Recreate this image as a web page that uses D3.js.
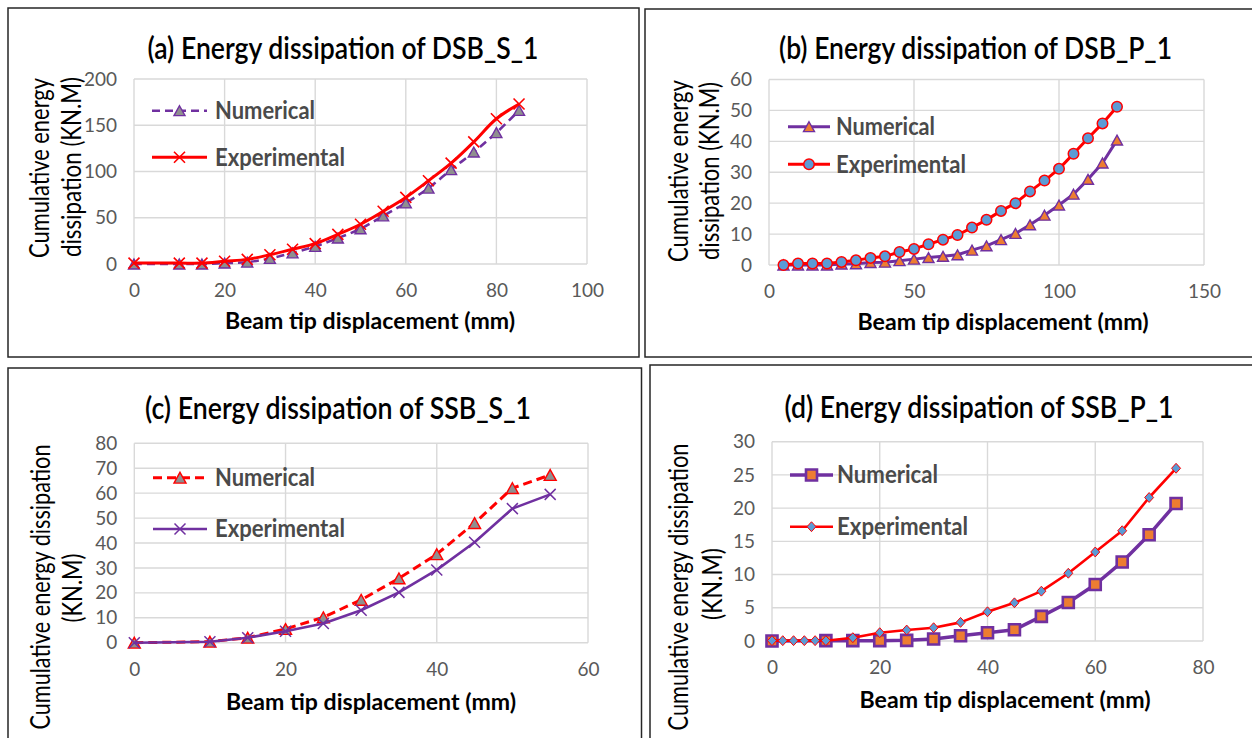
<!DOCTYPE html>
<html>
<head>
<meta charset="utf-8">
<script src="https://cdn.jsdelivr.net/npm/d3@7"></script>
<style>
  html, body { margin: 0; padding: 0; background: #ffffff; }
  svg { display: block; font-family: Lato, "Open Sans", "Liberation Sans", sans-serif; }
</style>
</head>
<body>
<svg id="chart" width="1252" height="738"></svg>
<script>
// ---- Data -------------------------------------------------------------
const panelTitles = [
  '(a) Energy dissipation of DSB_S_1',
  '(b) Energy dissipation of DSB_P_1',
  '(c) Energy dissipation of SSB_S_1',
  '(d) Energy dissipation of SSB_P_1'
];
const xAxisTitle = 'Beam tip displacement (mm)';
const seriesNames = ['Numerical', 'Experimental'];

// (a) DSB_S_1
const dsbS1Disp = [0, 10, 15, 20, 25, 30, 35, 40, 45, 50, 55, 60, 65, 70, 75, 80, 85];
const dsbS1Num  = [0, 0, 0, 1, 2, 6, 12, 19, 28, 38, 52, 66, 82, 102, 121, 142, 166];
const dsbS1Exp  = [1, 1, 1, 3, 5, 10, 16, 22, 32, 43, 57, 72, 90, 109, 132, 157, 173];
const dsbS1XTicks = [0, 20, 40, 60, 80, 100];
const dsbS1YTicks = [0, 50, 100, 150, 200];

// (b) DSB_P_1
const dsbP1Disp = [5, 10, 15, 20, 25, 30, 35, 40, 45, 50, 55, 60, 65, 70, 75, 80, 85, 90, 95, 100, 105, 110, 115, 120];
const dsbP1Num  = [0, 0, 0, 0, 0.3, 0.4, 0.8, 0.9, 1.4, 1.9, 2.4, 2.8, 3.3, 4.8, 6.2, 8.2, 10.2, 13, 16.1, 19.4, 22.9, 27.7, 33, 40.4];
const dsbP1Exp  = [0, 0.5, 0.5, 0.5, 1, 1.5, 2.3, 2.8, 4.2, 5.2, 6.7, 8.2, 9.7, 12.1, 14.6, 17.5, 20, 23.8, 27.3, 31.1, 36, 41, 45.8, 51.2];
const dsbP1XTicks = [0, 50, 100, 150];
const dsbP1YTicks = [0, 10, 20, 30, 40, 50, 60];

// (c) SSB_S_1
const ssbS1Disp = [0, 10, 15, 20, 25, 30, 35, 40, 45, 50, 55];
const ssbS1Num  = [0, 0.4, 2, 5.5, 10.2, 17.2, 25.8, 35.5, 48, 62, 67.3];
const ssbS1Exp  = [0, 0.4, 2, 4.6, 7.7, 13, 20.2, 29.2, 40.3, 53.8, 59.5];
const ssbS1XTicks = [0, 20, 40, 60];
const ssbS1YTicks = [0, 10, 20, 30, 40, 50, 60, 70, 80];

// (d) SSB_P_1
const ssbP1NumDisp = [0, 10, 15, 20, 25, 30, 35, 40, 45, 50, 55, 60, 65, 70, 75];
const ssbP1Num     = [0, 0.05, 0.05, 0.05, 0.1, 0.3, 0.8, 1.25, 1.7, 3.7, 5.8, 8.5, 11.9, 16, 20.7];
const ssbP1ExpDisp = [0, 2, 4, 6, 8, 10, 15, 20, 25, 30, 35, 40, 45, 50, 55, 60, 65, 70, 75];
const ssbP1Exp     = [0.05, 0.05, 0.05, 0.05, 0.05, 0.05, 0.5, 1.25, 1.65, 2, 2.8, 4.4, 5.75, 7.5, 10.2, 13.4, 16.6, 21.6, 26];
const ssbP1XTicks = [0, 20, 40, 60, 80];
const ssbP1YTicks = [0, 5, 10, 15, 20, 25, 30];

// ---- Styling ----------------------------------------------------------
const RED = '#ff0000', PURPLE = '#7030a0', ORANGE = '#ed7d31', BLUE = '#5b9bd5', GREY = '#8f8f8f';
const GRID = '#d9d9d9', TICK_TEXT = '#595959', LEGEND_TEXT = '#4a4a4a';

const zip = (xs, ys) => xs.map((x, i) => ({ x, y: ys[i] }));

const panels = [
  {
    title: panelTitles[0], titlePos: [343, 48, 391],
    frame: [8, 8, 631, 349],
    plot: { left: 134, right: 587, top: 79, bottom: 264 },
    xDomain: [0, 100], yDomain: [0, 200], xTicks: dsbS1XTicks, yTicks: dsbS1YTicks,
    xTitlePos: [370, 321, 290],
    yTitle: [['Cumulative energy', 40, 168, 180], ['dissipation (KN.M)', 72, 167, 180]],
    legend: { x0: 152, x1: 207, tx: 215, rows: [110.7, 157.3], widths: [100, 130] },
    curve: d3.curveCatmullRom.alpha(0.5),
    series: [
      { name: seriesNames[0], data: zip(dsbS1Disp, dsbS1Num), color: PURPLE, width: 2.6, dash: '8,5',
        marker: { type: 'triangle', size: 11, fill: GREY, stroke: PURPLE, sw: 1.4 } },
      { name: seriesNames[1], data: zip(dsbS1Disp, dsbS1Exp), color: RED, width: 3, dash: null,
        marker: { type: 'x', size: 11, fill: 'none', stroke: RED, sw: 1.6 } }
    ]
  },
  {
    title: panelTitles[1], titlePos: [975.5, 48, 393],
    frame: [645, 9, 620, 348],
    plot: { left: 769, right: 1204, top: 79.5, bottom: 265 },
    xDomain: [0, 150], yDomain: [0, 60], xTicks: dsbP1XTicks, yTicks: dsbP1YTicks,
    xTitlePos: [1003, 322, 291],
    yTitle: [['Cumulative energy', 679, 171, 182], ['dissipation (KN.M)', 710, 171, 178]],
    legend: { x0: 788, x1: 830, tx: 836, rows: [126.7, 164.3], widths: [99, 130] },
    curve: d3.curveLinear,
    series: [
      { name: seriesNames[0], data: zip(dsbP1Disp, dsbP1Num), color: PURPLE, width: 3, dash: null,
        marker: { type: 'triangle', size: 11, fill: ORANGE, stroke: PURPLE, sw: 1.4 } },
      { name: seriesNames[1], data: zip(dsbP1Disp, dsbP1Exp), color: RED, width: 3, dash: null,
        marker: { type: 'circle', size: 10.5, fill: BLUE, stroke: RED, sw: 1.5 } }
    ]
  },
  {
    title: panelTitles[2], titlePos: [338, 408, 386],
    frame: [8, 368, 633.5, 380],
    plot: { left: 134.3, right: 588, top: 443.3, bottom: 642.7 },
    xDomain: [0, 60], yDomain: [0, 80], xTicks: ssbS1XTicks, yTicks: ssbS1YTicks,
    xTitlePos: [371, 702, 290],
    yTitle: [['Cumulative energy dissipation', 41, 587, 285], ['(KN.M)', 73, 588, 69]],
    legend: { x0: 153, x1: 207, tx: 215, rows: [477.7, 529], widths: [100, 130] },
    curve: d3.curveLinear,
    series: [
      { name: seriesNames[0], data: zip(ssbS1Disp, ssbS1Num), color: RED, width: 3, dash: '9,5',
        marker: { type: 'triangle', size: 12, fill: GREY, stroke: RED, sw: 1.4 } },
      { name: seriesNames[1], data: zip(ssbS1Disp, ssbS1Exp), color: PURPLE, width: 2.6, dash: null,
        marker: { type: 'x', size: 11, fill: 'none', stroke: PURPLE, sw: 1.5 } }
    ]
  },
  {
    title: panelTitles[3], titlePos: [979, 407, 389],
    frame: [650, 365, 620, 380],
    plot: { left: 772, right: 1203, top: 441.7, bottom: 641 },
    xDomain: [0, 80], yDomain: [0, 30], xTicks: ssbP1XTicks, yTicks: ssbP1YTicks,
    xTitlePos: [1005, 700, 291],
    yTitle: [['Cumulative energy dissipation', 679, 587, 287], ['(KN.M)', 713, 584, 72]],
    legend: { x0: 790, x1: 833, tx: 837, rows: [475, 526.7], widths: [101, 131] },
    curve: d3.curveLinear,
    series: [
      { name: seriesNames[0], data: zip(ssbP1NumDisp, ssbP1Num), color: PURPLE, width: 3.5, dash: null,
        marker: { type: 'square', size: 11, fill: ORANGE, stroke: PURPLE, sw: 2.6 } },
      { name: seriesNames[1], data: zip(ssbP1ExpDisp, ssbP1Exp), color: RED, width: 2.6, dash: null,
        marker: { type: 'diamond', size: 9, fill: BLUE, stroke: RED, sw: 1 } }
    ]
  }
];

// ---- Marker shapes ----------------------------------------------------
function markerPath(type, s) {
  const a = s / 2;
  switch (type) {
    case 'triangle': {
      const h = s * 0.9;
      return `M0,${-h / 2}L${a},${h / 2}L${-a},${h / 2}Z`;
    }
    case 'x':
      return `M${-a},${-a}L${a},${a}M${-a},${a}L${a},${-a}`;
    case 'circle':
      return `M${a},0A${a},${a} 0 1 1 ${-a},0A${a},${a} 0 1 1 ${a},0Z`;
    case 'square':
      return `M${-a},${-a}H${a}V${a}H${-a}Z`;
    case 'diamond':
      return `M0,${-a * 1.1}L${a},0L0,${a * 1.1}L${-a},0Z`;
  }
  return '';
}

function drawMarkers(g, pts, m) {
  g.selectAll(null)
    .data(pts)
    .join('path')
    .attr('transform', d => `translate(${d[0]},${d[1]})`)
    .attr('d', markerPath(m.type, m.size))
    .attr('fill', m.fill)
    .attr('stroke', m.stroke)
    .attr('stroke-width', m.sw)
    .attr('stroke-linejoin', 'miter');
}

// ---- Drawing ----------------------------------------------------------
const svg = d3.select('#chart');

panels.forEach(p => {
  const g = svg.append('g');

  // panel frame
  g.append('rect')
    .attr('x', p.frame[0]).attr('y', p.frame[1])
    .attr('width', p.frame[2]).attr('height', p.frame[3])
    .attr('fill', 'none').attr('stroke', '#262626').attr('stroke-width', 1.5);

  const x = d3.scaleLinear().domain(p.xDomain).range([p.plot.left, p.plot.right]);
  const y = d3.scaleLinear().domain(p.yDomain).range([p.plot.bottom, p.plot.top]);

  // gridlines
  const grid = g.append('g').attr('stroke', GRID).attr('stroke-width', 1.4);
  grid.selectAll('.hg').data(p.yTicks).join('line')
    .attr('x1', x(p.xDomain[0])).attr('x2', x(p.xDomain[1]))
    .attr('y1', d => y(d)).attr('y2', d => y(d));
  grid.selectAll('.vg').data(p.xTicks).join('line')
    .attr('y1', y(p.yDomain[0])).attr('y2', y(p.yDomain[1]))
    .attr('x1', d => x(d)).attr('x2', d => x(d));

  // tick labels
  const yAxis = g.append('g')
    .attr('transform', `translate(${p.plot.left},0)`)
    .call(d3.axisLeft(y).tickValues(p.yTicks).tickSize(0).tickPadding(17));
  const xAxis = g.append('g')
    .attr('transform', `translate(0,${p.plot.bottom})`)
    .call(d3.axisBottom(x).tickValues(p.xTicks).tickSize(0).tickPadding(20));
  [xAxis, yAxis].forEach(ax => {
    ax.select('.domain').remove();
    ax.selectAll('text')
      .attr('fill', TICK_TEXT)
      .style('font-family', 'Lato, "Open Sans", sans-serif')
      .style('font-size', '19px');
  });

  // series
  const line = d3.line().x(d => x(d.x)).y(d => y(d.y)).curve(p.curve);
  p.series.forEach(s => {
    g.append('path')
      .datum(s.data)
      .attr('d', line)
      .attr('fill', 'none')
      .attr('stroke', s.color)
      .attr('stroke-width', s.width)
      .attr('stroke-dasharray', s.dash)
      .attr('stroke-linejoin', 'round');
    drawMarkers(g.append('g'), s.data.map(d => [x(d.x), y(d.y)]), s.marker);
  });

  // legend
  p.series.forEach((s, i) => {
    const ly = p.legend.rows[i];
    g.append('line')
      .attr('x1', p.legend.x0).attr('x2', p.legend.x1)
      .attr('y1', ly).attr('y2', ly)
      .attr('stroke', s.color).attr('stroke-width', s.width)
      .attr('stroke-dasharray', s.dash);
    drawMarkers(g.append('g'), [[(p.legend.x0 + p.legend.x1) / 2, ly]], s.marker);
    g.append('text')
      .attr('x', p.legend.tx).attr('y', ly)
      .attr('dy', '0.35em')
      .attr('fill', LEGEND_TEXT)
      .attr('font-size', 24)
      .attr('font-weight', 700)
      .attr('textLength', p.legend.widths[i])
      .attr('lengthAdjust', 'spacingAndGlyphs')
      .text(s.name);
  });

  // chart title
  g.append('text')
    .attr('x', p.titlePos[0]).attr('y', p.titlePos[1])
    .attr('dy', '0.35em')
    .attr('text-anchor', 'middle')
    .attr('fill', '#000')
    .attr('font-size', 31)
    .attr('font-weight', 600)
    .attr('textLength', p.titlePos[2])
    .attr('lengthAdjust', 'spacingAndGlyphs')
    .text(p.title);

  // x axis title
  g.append('text')
    .attr('x', p.xTitlePos[0]).attr('y', p.xTitlePos[1])
    .attr('dy', '0.35em')
    .attr('text-anchor', 'middle')
    .attr('fill', '#000')
    .attr('font-size', 23)
    .attr('font-weight', 700)
    .attr('textLength', p.xTitlePos[2])
    .attr('lengthAdjust', 'spacingAndGlyphs')
    .text(xAxisTitle);

  // y axis title lines
  p.yTitle.forEach(([txt, cx, cy, len]) => {
    g.append('text')
      .attr('transform', `translate(${cx},${cy}) rotate(-90)`)
      .attr('dy', '0.35em')
      .attr('text-anchor', 'middle')
      .attr('fill', '#000')
      .attr('font-size', 26)
      .attr('textLength', len)
      .attr('lengthAdjust', 'spacingAndGlyphs')
      .text(txt);
  });
});
</script>
</body>
</html>
